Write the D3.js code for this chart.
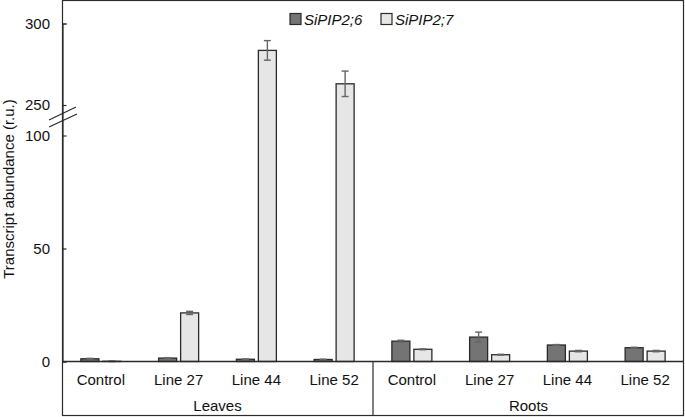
<!DOCTYPE html>
<html><head><meta charset="utf-8">
<script src="https://cdn.jsdelivr.net/npm/d3@7"></script>
<style>body{margin:0;background:#fff}svg{display:block;font-family:"Liberation Sans",Arial,sans-serif}</style>
</head><body><svg id="c" width="685" height="417"></svg>
<script>
const groups = ["Leaves", "Roots"];
const lines = ["Control", "Line 27", "Line 44", "Line 52"];
const series = ["SiPIP2;6", "SiPIP2;7"];
const pip26 = [1.2, 1.5, 1.0, 0.9, 9.0, 10.8, 7.3, 6.1];
const pip26err = [0.2, 0.2, 0.1, 0.1, 0.4, 2.2, 0.2, 0.2];
const pip27 = [0.1, 21.5, 283.5, 263.0, 5.4, 3.0, 4.6, 4.6];
const pip27err = [0.1, 0.7, 6.0, 7.8, 0.2, 0.2, 0.3, 0.3];
const yTicks = [0, 50, 100, 250, 300];
const colors = ["#747474", "#e6e6e6"];

const svg = d3.select("#c");
const cats = [];
groups.forEach(g => lines.forEach(l => cats.push(g + "|" + l)));
const x = d3.scaleBand().domain(cats).range([62, 684]).padding(0);
const xs = d3.scaleBand().domain(series).range([-20, 20]).paddingInner(0.1818);
// broken axis: piecewise linear scale
const y = d3.scaleLinear().domain([0, 100, 250, 300]).range([361.5, 135.5, 105, 23.5]);

const data = [];
cats.forEach((c, i) => {
  data.push({c, s: series[0], v: pip26[i], e: pip26err[i]});
  data.push({c, s: series[1], v: pip27[i], e: pip27err[i]});
});

// frame
svg.append("rect").attr("x", 62.5).attr("y", 0.5).attr("width", 621).attr("height", 415)
  .attr("fill", "none").attr("stroke", "#2a2a2a").attr("stroke-width", 1.2);

// bars
const cx = d => x(d.c) + x.bandwidth() / 2 + xs(d.s);
svg.append("g").selectAll("rect").data(data).join("rect")
  .attr("x", d => cx(d)).attr("width", xs.bandwidth())
  .attr("y", d => y(d.v)).attr("height", d => y(0) - y(d.v))
  .attr("fill", d => colors[series.indexOf(d.s)])
  .attr("stroke", "#2a2a2a").attr("stroke-width", 1.3);

// error bars
const eg = svg.append("g").attr("stroke", "#666").attr("stroke-width", 1.4);
data.forEach(d => {
  const m = cx(d) + xs.bandwidth() / 2;
  eg.append("line").attr("x1", m).attr("x2", m).attr("y1", y(d.v + d.e)).attr("y2", y(d.v - d.e));
  [d.v + d.e, d.v - d.e].forEach(v => eg.append("line").attr("x1", m - 3.5).attr("x2", m + 3.5).attr("y1", y(v)).attr("y2", y(v)));
});

// y axis
const ya = svg.append("g").attr("transform", "translate(62.5,0)")
  .call(d3.axisRight(y).tickValues(yTicks).tickSize(4).tickFormat(""));
ya.select(".domain").attr("stroke", "#2a2a2a").attr("stroke-width", 1.2);
ya.selectAll(".tick line").attr("stroke", "#2a2a2a").attr("stroke-width", 1.2);
svg.append("g").selectAll("text").data(yTicks).join("text")
  .attr("x", 50).attr("y", d => y(d)).attr("dy", "0.36em").attr("text-anchor", "end")
  .attr("font-size", 15).attr("fill", "#111").text(d => d);

// break marks
const bk = svg.append("g").attr("stroke", "#2a2a2a").attr("stroke-width", 1.2);
bk.append("line").attr("x1", 49).attr("y1", 120).attr("x2", 76).attr("y2", 107);
bk.append("line").attr("x1", 49).attr("y1", 127).attr("x2", 77).attr("y2", 114);

// x baseline and divider
svg.append("line").attr("x1", 62).attr("x2", 684).attr("y1", y(0)).attr("y2", y(0))
  .attr("stroke", "#2a2a2a").attr("stroke-width", 1.3);
svg.append("line").attr("x1", x(cats[4])).attr("x2", x(cats[4])).attr("y1", y(0)).attr("y2", 416)
  .attr("stroke", "#2a2a2a").attr("stroke-width", 1.2);

// category labels
svg.append("g").selectAll("text").data(cats).join("text")
  .attr("x", d => x(d) + x.bandwidth() / 2).attr("y", 384.5).attr("text-anchor", "middle")
  .attr("font-size", 15).attr("fill", "#111").text(d => d.split("|")[1]);
svg.append("g").selectAll("text").data(groups).join("text")
  .attr("x", (g, i) => (x(cats[i * 4]) + x(cats[i * 4 + 3]) + x.bandwidth()) / 2)
  .attr("y", 411).attr("text-anchor", "middle").attr("font-size", 15).attr("fill", "#111").text(d => d);

// y title
svg.append("text").attr("transform", "translate(13.5,189) rotate(-90)").attr("text-anchor", "middle")
  .attr("font-size", 15).attr("fill", "#111").text("Transcript abundance (r.u.)");

// legend
const lx = [290, 381];
series.forEach((s, i) => {
  svg.append("rect").attr("x", lx[i]).attr("y", 13.5).attr("width", 11).attr("height", 11)
    .attr("fill", colors[i]).attr("stroke", "#2a2a2a").attr("stroke-width", 1.2);
  svg.append("text").attr("x", lx[i] + 14).attr("y", 24.5).attr("font-size", 15)
    .attr("font-style", "italic").attr("fill", "#111").text(s);
});
</script></body></html>
